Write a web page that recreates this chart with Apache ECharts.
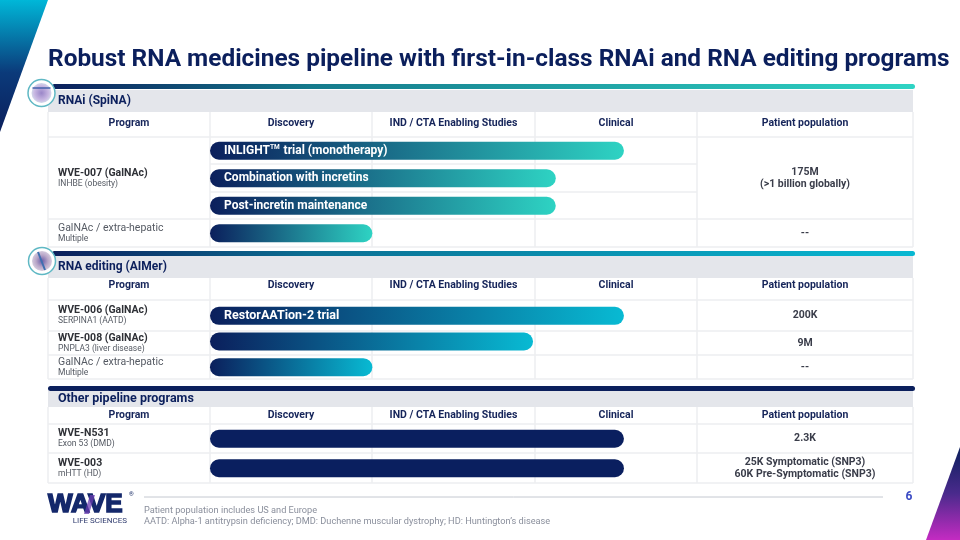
<!DOCTYPE html>
<html><head><meta charset="utf-8">
<script src="https://cdn.jsdelivr.net/npm/echarts@6/dist/echarts.min.js"></script>
<style>html,body{margin:0;padding:0;background:#fff}#c{width:960px;height:540px}</style>
</head><body><div id="c"></div>
<script>
// ---------- data ----------
const title = 'Robust RNA medicines pipeline with first-in-class RNAi and RNA editing programs';
const columnHeaders = ['Program', 'Discovery', 'IND / CTA Enabling Studies', 'Clinical', 'Patient population'];
const sectionNames = ['RNAi (SpiNA)', 'RNA editing (AIMer)', 'Other pipeline programs'];

const rnaiPrograms = ['WVE-007 (GalNAc)', 'GalNAc / extra-hepatic'];
const rnaiTargets = ['INHBE (obesity)', 'Multiple'];
const rnaiPopulation = [['175M', '(>1 billion globally)'], ['--']];
const rnaiBarLabels = ['INLIGHT{sup|TM} trial (monotherapy)', 'Combination with incretins', 'Post-incretin maintenance', ''];
const rnaiProgress = [2.55, 2.13, 2.13, 1.0];

const editingPrograms = ['WVE-006 (GalNAc)', 'WVE-008 (GalNAc)', 'GalNAc / extra-hepatic'];
const editingTargets = ['SERPINA1 (AATD)', 'PNPLA3 (liver disease)', 'Multiple'];
const editingPopulation = [['200K'], ['9M'], ['--']];
const editingBarLabels = ['RestorAATion-2 trial', '', ''];
const editingProgress = [2.55, 1.99, 1.0];

const otherPrograms = ['WVE-N531', 'WVE-003'];
const otherTargets = ['Exon 53 (DMD)', 'mHTT (HD)'];
const otherPopulation = [['2.3K'], ['25K Symptomatic (SNP3)', '60K Pre-Symptomatic (SNP3)']];
const otherBarLabels = ['', ''];
const otherProgress = [2.55, 2.55];

const footnotes = ['Patient population includes US and Europe',
  'AATD: Alpha-1 antitrypsin deficiency; DMD: Duchenne muscular dystrophy; HD: Huntington\u2019s disease'];
const pageNumber = '6';

// ---------- layout & style ----------
const NAVY = '#0b1f5c';
const FF = 'Roboto, "Noto Sans", sans-serif';
const colX = [48, 210, 372, 535, 697, 913];
const LINE = '#eceef1';
const sections = [
  { name: sectionNames[0], programs: rnaiPrograms, targets: rnaiTargets, pop: rnaiPopulation,
    progress: rnaiProgress, labels: rnaiBarLabels, c0: NAVY, c1: '#2ed3c3',
    line: { y: 84, x0: 52, stops: [[0, NAVY], [0.3, '#157a8c'], [1, '#2fd4c4']] },
    band: [90, 112], head: [112, 136], headText: 123,
    rows: [137, 219, 247], subLines: [164, 192], grid: [137, 247], icon: [41.5, 93] },
  { name: sectionNames[1], programs: editingPrograms, targets: editingTargets, pop: editingPopulation,
    progress: editingProgress, labels: editingBarLabels, c0: NAVY, c1: '#08bad3',
    line: { y: 251, x0: 52, stops: [[0, NAVY], [0.3, '#0b6f93'], [1, '#08b8d2']] },
    band: [256, 278], head: [278, 300], headText: 285,
    rows: [300, 331, 355, 379], subLines: [], grid: [303, 380], icon: [42, 261] },
  { name: sectionNames[2], programs: otherPrograms, targets: otherTargets, pop: otherPopulation,
    progress: otherProgress, labels: otherBarLabels, c0: '#0a1f5f', c1: '#0a1f5f',
    line: { y: 386, x0: 48, stops: [[0, NAVY], [1, NAVY]] },
    band: [391, 407], head: [407, 424], headText: 415,
    rows: [424, 453, 483], subLines: [], grid: [424, 483], icon: null }
];

const g = [];
function txt(x, y, s, font, fill, align, extra) {
  g.push({ type: 'text', z: 10, style: Object.assign({ x: x, y: y, text: s, font: font, fill: fill,
    align: align || 'left', verticalAlign: 'middle', textAlign: align || 'left', textVerticalAlign: 'middle' }, extra || {}) });
}
function hline(x1, x2, y, color, w) {
  g.push({ type: 'line', z: 1, shape: { x1: x1, y1: y, x2: x2, y2: y }, style: { stroke: color, lineWidth: w || 1.5 } });
}
function vline(x, y1, y2, color, w) {
  g.push({ type: 'line', z: 1, shape: { x1: x, y1: y1, x2: x, y2: y2 }, style: { stroke: color, lineWidth: w || 1.5 } });
}
function grad(stops) {
  return { type: 'linear', x: 0, y: 0, x2: 1, y2: 0, colorStops: stops.map(s => ({ offset: s[0], color: s[1] })) };
}

// decorations
g.push({ type: 'polygon', z: 0, shape: { points: [[0, 0], [48, 0], [0, 132]] },
  style: { fill: { type: 'linear', x: 0, y: 0, x2: 0, y2: 1, colorStops: [{ offset: 0, color: '#00b7d8' }, { offset: 0.55, color: '#0b3a7a' }, { offset: 1, color: NAVY }] } } });
g.push({ type: 'polygon', z: 0, shape: { points: [[960, 447], [960, 540], [926, 540]] },
  style: { fill: { type: 'linear', x: 0, y: 0, x2: 0, y2: 1, colorStops: [{ offset: 0, color: NAVY }, { offset: 0.5, color: '#4a2a8c' }, { offset: 1, color: '#c42bc2' }] } } });

txt(48, 60, title, 'bold 24.4px ' + FF, NAVY);

sections.forEach((s, si) => {
  g.push({ type: 'rect', z: 3, shape: { x: s.line.x0, y: s.line.y, width: 915 - s.line.x0, height: 5, r: 2.5 }, style: { fill: grad(s.line.stops) } });
  g.push({ type: 'rect', z: 0, shape: { x: 48, y: s.band[0], width: 865, height: s.band[1] - s.band[0] }, style: { fill: '#e4e6eb' } });
  txt(58, (s.band[0] + s.band[1]) / 2 + (si === 2 ? -0.5 : 0), s.name, 'bold ' + (si === 2 ? 12.5 : 12) + 'px ' + FF, NAVY);
  columnHeaders.forEach((h, i) => txt((colX[i] + colX[i + 1]) / 2, s.headText, h, 'bold 10.5px ' + FF, '#16255a', 'center'));
  const top = s.head[0], bottom = s.rows[s.rows.length - 1];
  colX.forEach(x => vline(x, top, bottom, LINE));
  s.rows.forEach(y => hline(48, 913, y, LINE));
  s.subLines.forEach(y => hline(210, 697, y, LINE));
  for (let i = 0; i < s.programs.length; i++) {
    const cy = (s.rows[i] + s.rows[i + 1]) / 2;
    const isGen = s.programs[i].indexOf('GalNAc /') === 0;
    txt(58, cy - 5, s.programs[i], (isGen ? '' : 'bold ') + '10.5px ' + FF, isGen ? '#555a63' : '#2e3036');
    txt(58, cy + 5.5, s.targets[i], '8.5px ' + FF, '#555a63');
    const p = s.pop[i];
    if (p.length === 1) txt(805, cy, p[0], 'bold 10.5px ' + FF, '#3a3d4a', 'center');
    else { txt(805, cy - 6, p[0], 'bold 10.5px ' + FF, '#3a3d4a', 'center'); txt(805, cy + 6, p[1], 'bold 10.5px ' + FF, '#3a3d4a', 'center'); }
  }
  if (s.icon) {
    g.push({ type: 'circle', z: 12, shape: { cx: s.icon[0], cy: s.icon[1], r: 13.5 }, style: { fill: '#fff', stroke: '#5fb8c4', lineWidth: 1.5 } });
    g.push({ type: 'circle', z: 13, shape: { cx: s.icon[0], cy: s.icon[1], r: 10 },
      style: { fill: { type: 'radial', x: 0.5, y: 0.5, r: 0.6, colorStops: si === 0 ? [{ offset: 0, color: '#9a86c8' }, { offset: 0.6, color: '#c9b8e2' }, { offset: 1, color: '#d8eef0' }] : [{ offset: 0, color: '#6a5ea8' }, { offset: 0.5, color: '#b9a7c8' }, { offset: 1, color: '#e2dde8' }] } } });
    if (si === 0) g.push({ type: 'rect', z: 14, shape: { x: s.icon[0] - 9, y: s.icon[1] - 6, width: 18, height: 2 }, style: { fill: '#3b5aa8', opacity: 0.7 } });
    else g.push({ type: 'line', z: 14, shape: { x1: s.icon[0] - 4, y1: s.icon[1] - 9, x2: s.icon[0] + 3, y2: s.icon[1] + 9 }, style: { stroke: '#3f6fb0', lineWidth: 2 } });
  }
});

// footer
hline(144, 883, 497, '#c4c8d0', 1);
txt(909, 497, pageNumber, 'bold 12px ' + FF, '#3b4bc4', 'center');
txt(144, 511, footnotes[0], '9.2px ' + FF, '#8a8f9c');
txt(144, 521.5, footnotes[1], '9.2px ' + FF, '#8a8f9c');
txt(48, 504.5, 'WAVE', 'bold 26px "Liberation Sans", sans-serif', '#14286b', 'left', { stroke: '#14286b', lineWidth: 1.6 });
g.push({ type: 'polygon', z: 11, shape: { points: [[84, 514], [90, 495], [95, 495], [89, 514]] }, style: { fill: '#6a3cb0', opacity: 0.75 } });
txt(129, 494, '\u00ae', '6px ' + FF, NAVY);
txt(127, 520.5, 'LIFE SCIENCES', '8px ' + FF, '#2f3b6e', 'right');

// ---------- charts ----------
const grids = [], xAxes = [], yAxes = [], series = [];
sections.forEach((s, si) => {
  grids.push({ left: colX[1], width: colX[4] - colX[1], top: s.grid[0], height: s.grid[1] - s.grid[0], containLabel: false });
  xAxes.push({ type: 'value', gridIndex: si, min: 0, max: 3, show: false });
  yAxes.push({ type: 'category', gridIndex: si, inverse: true, show: false, data: s.progress.map((_, i) => 'row' + i) });
  series.push({
    type: 'bar', xAxisIndex: si, yAxisIndex: si, barWidth: 18, z: 5, silent: true,
    data: s.progress.map((v, i) => ({
      value: v,
      itemStyle: { borderRadius: 9, color: s.c0 === s.c1 ? s.c0 : grad([[0, s.c0], [1, s.c1]]) },
      label: { show: !!s.labels[i], formatter: s.labels[i] }
    })),
    label: { position: 'insideLeft', distance: 14, color: '#ffffff', fontWeight: 'bold', fontSize: si === 1 ? 12.5 : 12, fontFamily: FF,
      rich: { sup: { fontSize: 6.5, fontWeight: 'bold', color: '#ffffff', fontFamily: FF, padding: [0, 1, 6, 0] } } }
  });
});

const chart = echarts.init(document.getElementById('c'), null, { renderer: 'canvas' });
chart.setOption({
  backgroundColor: '#ffffff',
  animation: false,
  grid: grids, xAxis: xAxes, yAxis: yAxes, series: series,
  graphic: { elements: g }
});
</script></body></html>
